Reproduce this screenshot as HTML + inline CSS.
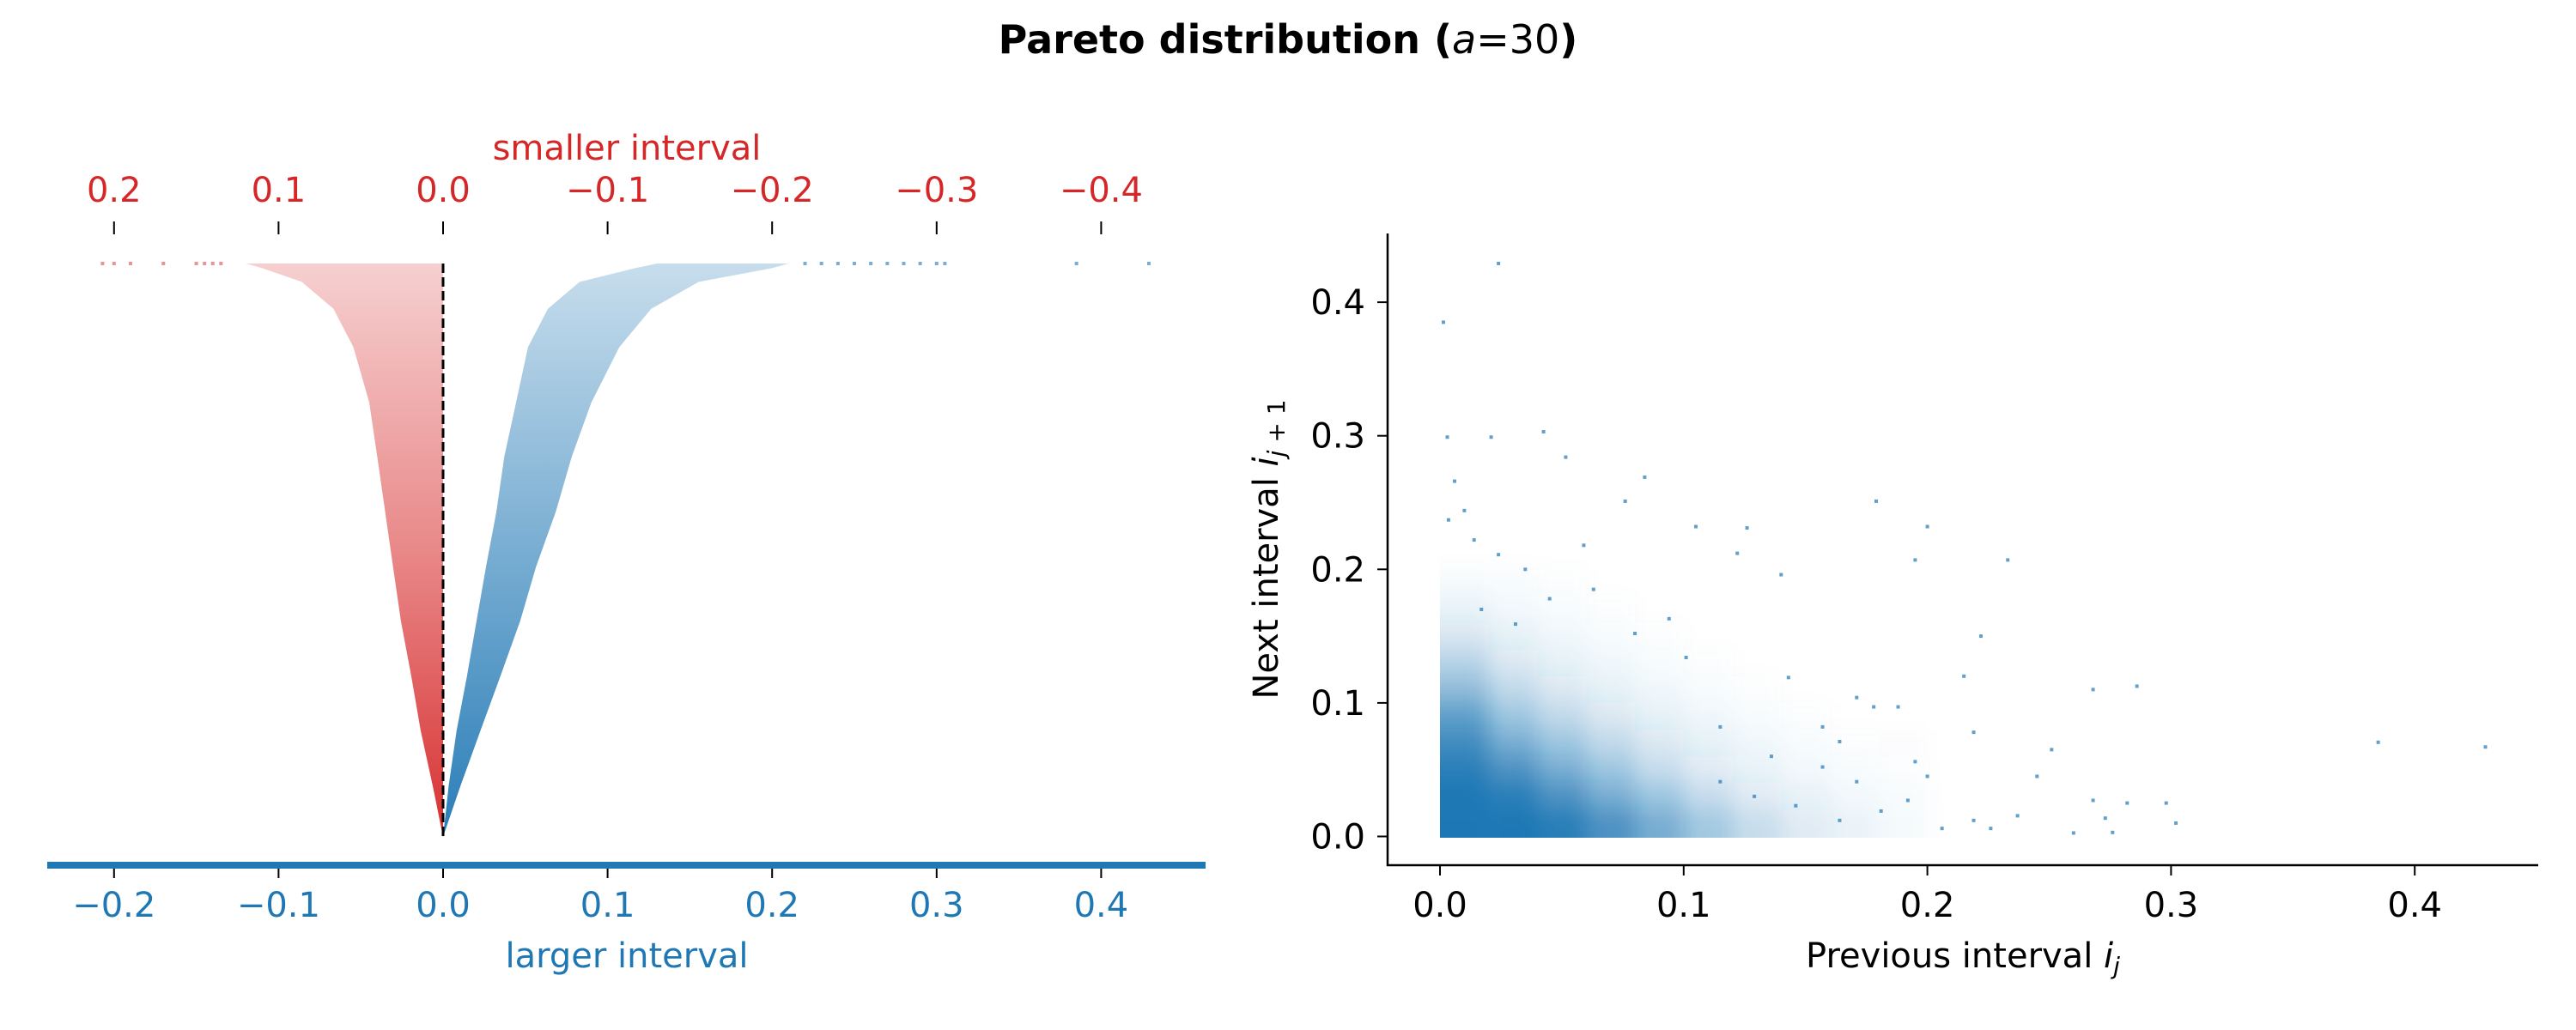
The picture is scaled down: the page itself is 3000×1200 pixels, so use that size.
<!DOCTYPE html>
<html><head><meta charset="utf-8"><style>
html,body{margin:0;padding:0;background:#fff}
svg{display:block;font-family:"DejaVu Sans","Liberation Sans",sans-serif}
</style></head><body>
<svg id="fig" width="3000" height="1200" viewBox="0 0 3000 1200">
<defs>
<linearGradient id="gBlue" x1="0" y1="1" x2="0" y2="0"><stop offset="0" stop-color="#1f77b4" stop-opacity="0.95"/><stop offset="0.5" stop-color="#1f77b4" stop-opacity="0.6"/><stop offset="1" stop-color="#1f77b4" stop-opacity="0.25"/></linearGradient>
<linearGradient id="gRed" x1="0" y1="1" x2="0" y2="0"><stop offset="0" stop-color="#d62728" stop-opacity="0.95"/><stop offset="0.5" stop-color="#d62728" stop-opacity="0.55"/><stop offset="1" stop-color="#d62728" stop-opacity="0.22"/></linearGradient>
<filter id="blur" x="-10%" y="-10%" width="120%" height="120%"><feGaussianBlur stdDeviation="12"/></filter>
<clipPath id="clipR"><rect x="1677" y="300" width="1280" height="676"/></clipPath>
</defs>
<text x="1500" y="62" text-anchor="middle" font-size="46" font-weight="bold">Pareto distribution (<tspan font-style="italic" font-weight="normal">a</tspan><tspan font-weight="normal">=30</tspan>)</text>
<g id="left"></g>
<g id="right"></g>
</svg>
<script>
// ---- left panel data ----
const tLevels   = [0, 0.089, 0.185, 0.280, 0.376, 0.471, 0.567, 0.663, 0.758, 0.854, 0.921, 0.968, 0.992, 1.0];
const blueInner = [0, 0.0034, 0.0082, 0.0145, 0.0203, 0.0261, 0.0324, 0.0372, 0.0444, 0.0516, 0.0637, 0.083, 0.1168, 0.13];
const blueOuter = [0, 0.0106, 0.0227, 0.0348, 0.0468, 0.0565, 0.0685, 0.0782, 0.0902, 0.1071, 0.1265, 0.1554, 0.2, 0.21];
const redOuter  = [0, -0.0063, -0.0136, -0.0193, -0.0256, -0.0304, -0.0352, -0.040, -0.0449, -0.0545, -0.0666, -0.0859, -0.110, -0.12];
const blueTail  = [0.22, 0.23, 0.24, 0.25, 0.26, 0.27, 0.28, 0.29, 0.30, 0.305, 0.385, 0.429];
const redTail   = [-0.207, -0.2, -0.19, -0.17, -0.15, -0.145, -0.14, -0.135];
const bottomTicks = [-0.2, -0.1, 0.0, 0.1, 0.2, 0.3, 0.4];
const topTicks    = [0.2, 0.1, 0.0, -0.1, -0.2, -0.3, -0.4];
// ---- right panel data ----
const gridX0 = [0, 0.02, 0.04, 0.06, 0.08, 0.10, 0.12, 0.14, 0.16, 0.18];
const gridY0 = [0, 0.02, 0.04, 0.06, 0.08, 0.10, 0.12, 0.14, 0.16, 0.18];
const density = [
 [1, 1, 0.95, 0.8, 0.6, 0.4, 0.25, 0.15, 0.08, 0.04],
 [1, 0.95, 0.8, 0.6, 0.42, 0.26, 0.15, 0.09, 0.05, 0.03],
 [0.95, 0.8, 0.6, 0.42, 0.26, 0.15, 0.09, 0.05, 0.03, 0.015],
 [0.85, 0.6, 0.42, 0.28, 0.17, 0.1, 0.06, 0.03, 0.015, 0.01],
 [0.7, 0.42, 0.28, 0.17, 0.1, 0.06, 0.03, 0.015, 0, 0],
 [0.5, 0.28, 0.17, 0.1, 0.06, 0.03, 0.015, 0, 0, 0],
 [0.32, 0.17, 0.1, 0.06, 0.03, 0.015, 0, 0, 0, 0],
 [0.18, 0.1, 0.06, 0.03, 0.015, 0, 0, 0, 0, 0],
 [0.09, 0.05, 0.03, 0.015, 0, 0, 0, 0, 0, 0],
 [0.04, 0.03, 0.015, 0, 0, 0, 0, 0, 0, 0]
];
const outX = [0.024,0.0014,0.003,0.0425,0.021,0.0516,0.084,0.006,0.076,0.179,0.2,0.105,0.126,0.233,0.195,0.14,0.122,0.385,0.429,0.286,0.268,0.222,0.215,0.298,0.302,0.282,0.268,0.251,0.245,0.237,0.26,0.276,0.273,0.195,0.2,0.219,0.178,0.188,0.164,0.157,0.171,0.143,0.115,0.101,0.094,0.080,0.063,0.045,0.035,0.024,0.014,0.010,0.017,0.031,0.0035,0.059,0.129,0.146,0.164,0.181,0.206,0.219,0.171,0.157,0.136,0.115,0.192,0.226];
const outY = [0.429,0.385,0.299,0.303,0.299,0.284,0.269,0.266,0.251,0.251,0.232,0.232,0.231,0.207,0.207,0.196,0.212,0.0705,0.067,0.1125,0.110,0.150,0.120,0.025,0.01,0.025,0.027,0.065,0.045,0.0155,0.0026,0.003,0.0137,0.056,0.045,0.078,0.097,0.097,0.071,0.082,0.104,0.119,0.082,0.134,0.163,0.152,0.185,0.178,0.2,0.211,0.222,0.244,0.170,0.159,0.237,0.218,0.030,0.023,0.012,0.019,0.006,0.012,0.041,0.052,0.060,0.041,0.027,0.006];
const rightTicks = [0.0, 0.1, 0.2, 0.3, 0.4];

const NS='http://www.w3.org/2000/svg';
function mk(tag, attrs, parent){const e=document.createElementNS(NS,tag);for(const k in attrs)e.setAttribute(k,attrs[k]);parent.appendChild(e);return e;}
function fmt(v){const s=Math.abs(v).toFixed(1);return (v<0?'\u2212':'')+s;}

// left axes
const L=document.getElementById('left');
const lx=v=>516+v*1916;
const ly=t=>975-t*(975-307);
const tx=v=>516-v*1916;
let bp=tLevels.map((t,i)=>lx(blueInner[i])+','+ly(t));
for(let i=tLevels.length-1;i>=0;i--) bp.push(lx(blueOuter[i])+','+ly(tLevels[i]));
let band=mk('polygon',{points:bp.join(' '),fill:'url(#gBlue)','stroke-linejoin':'round'},L);


let rp=tLevels.map(t=>lx(0)+','+ly(t));
for(let i=tLevels.length-1;i>=0;i--) rp.push(lx(redOuter[i])+','+ly(tLevels[i]));
band=mk('polygon',{points:rp.join(' '),fill:'url(#gRed)','stroke-linejoin':'round'},L);


blueTail.forEach(v=>{const c=mk('rect',{x:lx(v)-2,y:ly(1)-2,width:4,height:4,fill:'#1f77b4','fill-opacity':0.6},L);
 
 });
redTail.forEach(v=>{const c=mk('rect',{x:lx(v)-2,y:ly(1)-2,width:4,height:4,fill:'#d62728','fill-opacity':0.5},L);
 
 });
let dl=mk('line',{x1:lx(0),y1:307,x2:lx(0),y2:975,stroke:'#000','stroke-width':3,'stroke-dasharray':'11,5'},L);


let sp=mk('line',{x1:55,y1:1008,x2:1404,y2:1008,stroke:'#1f77b4','stroke-width':8},L);


bottomTicks.forEach(v=>{mk('line',{x1:lx(v),y1:1012,x2:lx(v),y2:1023,stroke:'#000','stroke-width':2},L);
 const t=mk('text',{x:lx(v),y:1068,'text-anchor':'middle','font-size':40,fill:'#1f77b4'},L);t.textContent=fmt(v);
 
 });
topTicks.forEach(v=>{mk('line',{x1:tx(v),y1:258,x2:tx(v),y2:273,stroke:'#000','stroke-width':2},L);
 const t=mk('text',{x:tx(v),y:235,'text-anchor':'middle','font-size':40,fill:'#d62728'},L);t.textContent=fmt(v);
 
 });
let t1=mk('text',{x:730,y:1127,'text-anchor':'middle','font-size':40,fill:'#1f77b4'},L);t1.textContent='larger interval';


let t2=mk('text',{x:730,y:186,'text-anchor':'middle','font-size':40,fill:'#d62728'},L);t2.textContent='smaller interval';



// right axes
const R=document.getElementById('right');
const rx=v=>1677+v*2838;
const ry=v=>974.5-v*1556;
const dg=mk('g',{'clip-path':'url(#clipR)'},R);
const dgi=mk('g',{filter:'url(#blur)'},dg);
density.forEach((row,j)=>row.forEach((d,i)=>{if(d<=0)return;
 const r=mk('rect',{x:rx(gridX0[i])-(i===0?40:0),y:ry(gridY0[j]+0.02),width:rx(0.02)-rx(0)+(i===0?40:0),height:ry(0)-ry(0.02)+(j===0?40:0),fill:'#1f77b4','fill-opacity':d},dgi);
 
 }));
outX.forEach((v,i)=>{const c=mk('rect',{x:rx(v)-2,y:ry(outY[i])-2,width:4,height:4,fill:'#1f77b4','fill-opacity':0.7},R);
 
 });
let ax=mk('path',{d:'M1616,272 V1008 H2956',fill:'none',stroke:'#000','stroke-width':2.5},R);


rightTicks.forEach(v=>{mk('line',{x1:rx(v),y1:1008,x2:rx(v),y2:1020,stroke:'#000','stroke-width':2},R);
 let t=mk('text',{x:rx(v),y:1068,'text-anchor':'middle','font-size':40},R);t.textContent=fmt(v);
 
 
 mk('line',{x1:1604,y1:ry(v),x2:1616,y2:ry(v),stroke:'#000','stroke-width':2},R);
 t=mk('text',{x:1590,y:ry(v)+14,'text-anchor':'end','font-size':40},R);t.textContent=fmt(v);
 
 });
</script>
<svg style="position:absolute;left:0;top:0" width="3000" height="1200">
<text x="2286" y="1127" text-anchor="middle" font-size="40" font-family="DejaVu Sans, sans-serif">Previous interval <tspan font-style="italic">i</tspan><tspan font-style="italic" font-size="28" dy="8">j</tspan></text>
<text transform="translate(1488,640) rotate(-90)" text-anchor="middle" font-size="40" font-family="DejaVu Sans, sans-serif">Next interval <tspan font-style="italic">i</tspan><tspan font-size="28" dy="8"><tspan font-style="italic">j</tspan> + 1</tspan></text>
</svg>
</body></html>
